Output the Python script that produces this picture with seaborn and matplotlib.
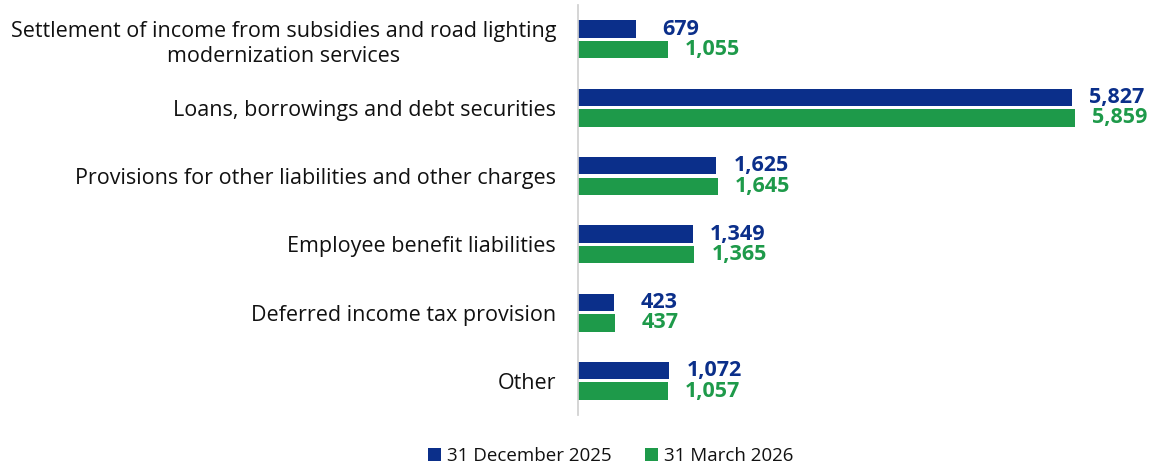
import matplotlib
matplotlib.use("Agg")
import matplotlib.pyplot as plt
import pandas as pd
import seaborn as sns

categories = [
    "Settlement of income from subsidies and road lighting\nmodernization services",
    "Loans, borrowings and debt securities",
    "Provisions for other liabilities and other charges",
    "Employee benefit liabilities",
    "Deferred income tax provision",
    "Other",
]
series = ["31 December 2025", "31 March 2026"]
dec_2025 = [679, 5827, 1625, 1349, 423, 1072]
mar_2026 = [1055, 5859, 1645, 1365, 437, 1057]
colors = ["#0B2F8A", "#1E9A4A"]

df = pd.DataFrame(
    {
        "category": categories * 2,
        "period": [series[0]] * len(categories) + [series[1]] * len(categories),
        "value": dec_2025 + mar_2026,
    }
)

sns.set_theme(style="white")
plt.rcParams["font.family"] = ["Open Sans", "DejaVu Sans"]

fig = plt.figure(figsize=(11.52, 4.68), dpi=100)
ax = fig.add_axes([0.502, 0.113, 0.498, 0.876])

sns.barplot(
    data=df, y="category", x="value", hue="period", orient="h",
    palette=colors, saturation=1, width=0.6, gap=0.15, linewidth=0,
    ax=ax, legend=True,
)

for cont, col in zip(ax.containers, colors):
    for bar in cont:
        w = bar.get_width()
        ax.annotate(
            f"{w:,.0f}",
            (w, bar.get_y() + bar.get_height() / 2),
            xytext=(45, 0), textcoords="offset pixels",
            ha="center", va="center", color=col,
            fontsize=15.5, fontweight="bold",
        )

ax.set_xlim(0, 6770)
ax.set_ylim(5.5, -0.5)
ax.set_xlabel("")
ax.set_ylabel("")
ax.set_xticks([])
ax.tick_params(axis="y", length=0, pad=16, labelsize=15.5)
for lbl in ax.get_yticklabels():
    lbl.set_horizontalalignment("right")
    lbl.set_multialignment("center")
    lbl.set_linespacing(1.25)
    lbl.set_fontweight("medium")
    lbl.set_color("#111111")
for side in ["top", "right", "bottom"]:
    ax.spines[side].set_visible(False)
ax.spines["left"].set_color("#D0D0D0")

handles, labels = ax.get_legend_handles_labels()
ax.get_legend().remove()
leg = fig.legend(
    handles, labels, loc="center", bbox_to_anchor=(0.53, 0.025), ncol=2,
    frameon=False, fontsize=13.5, handlelength=0.7, handleheight=0.7,
    columnspacing=1.8, handletextpad=0.3,
)
for t in leg.get_texts():
    t.set_fontweight("medium")
    t.set_color("#111111")

fig.savefig("out.png", dpi=100)
